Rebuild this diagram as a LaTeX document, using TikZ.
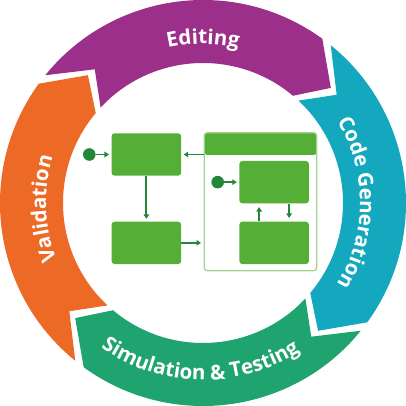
\documentclass[tikz,border=0pt]{standalone}
\usepackage{fontspec}
\setmainfont{Open Sans}
\usetikzlibrary{decorations.text,arrows.meta}

\definecolor{editcol}{HTML}{9C2F89}
\definecolor{codecol}{HTML}{14A8BF}
\definecolor{simcol}{HTML}{1FA470}
\definecolor{valcol}{HTML}{EC6A25}
\definecolor{stategreen}{HTML}{55AE36}
\definecolor{wiregreen}{HTML}{23863A}
\definecolor{framegreen}{HTML}{A3D494}

\newcommand\ringlabelfont{\fontsize{20.5}{24}\selectfont\bfseries\color{white}}

% One band of the cycle: #1 colour, #2 angle of the notch at its start.
% The band runs clockwise and ends in a right-angled point 87 degrees further on.
\newcommand\ringsegment[2]{%
  \pgfmathsetmacro\rsOuterA{#2+12}%
  \pgfmathsetmacro\rsOuterB{#2-75}%
  \pgfmathsetmacro\rsTip{#2-87}%
  \pgfmathsetmacro\rsInnerB{#2-79}%
  \pgfmathsetmacro\rsInnerA{#2+8}%
  \fill[#1] (\rsOuterA:203pt) arc[start angle=\rsOuterA, end angle=\rsOuterB, radius=203pt]
    -- (\rsTip:172pt) -- (\rsInnerB:140pt)
    arc[start angle=\rsInnerB, end angle=\rsInnerA, radius=140pt]
    -- (#2:172pt) -- cycle;}

\tikzset{
  statebox/.style={fill=stategreen, rounded corners=3pt, minimum width=69.5pt,
    minimum height=42.4pt, inner sep=0pt},
  initdot/.style={circle, fill=wiregreen, minimum size=12.6pt, inner sep=0pt},
  wire/.style={wiregreen, line width=1.8pt, -{Triangle[length=4.5pt,width=5.5pt]}},
  composite/.style={draw=framegreen, line width=1.3pt, fill=white, rounded corners=3pt,
    minimum width=112.4pt, minimum height=138pt, inner sep=0pt},
}

\begin{document}
\begin{tikzpicture}[x=1pt,y=1pt]
\useasboundingbox (-203,-203) rectangle (203,203);

% the four bands of the cycle
\ringsegment{editcol}{129}
\ringsegment{codecol}{39}
\ringsegment{simcol}{-51}
\ringsegment{valcol}{-141}

% band labels
\path[decorate, decoration={text along path, text align=center,
  text={|\ringlabelfont|Editing}}]
  (140:159pt) arc[start angle=140, end angle=40, radius=159pt];
\path[decorate, decoration={text along path, text align=center,
  text={|\ringlabelfont|Code Generation}}]
  (50:157pt) arc[start angle=50, end angle=-50, radius=157pt];
\path[decorate, decoration={text along path, text align=center,
  text={|\ringlabelfont|Validation}}]
  (227:157pt) arc[start angle=227, end angle=137, radius=157pt];
\path[decorate, decoration={text along path, text align=center,
  text={|\ringlabelfont|Simulation {\&} Testing}}]
  (-136:177pt) arc[start angle=-136, end angle=-46, radius=177pt];

% state machine in the middle
\node[statebox] (idle) at (-56.65,48.5) {};
\node[statebox] (ready) at (-56.65,-39.85) {};
\node[composite, path picture={\fill[stategreen] (path picture bounding box.north west)
  rectangle ([yshift=-22.3pt]path picture bounding box.north east);}] (group) at (57.5,1.3) {};
\node[statebox] (run) at (71.15,20.85) {};
\node[statebox] (wait) at (71.15,-39.85) {};
\node[initdot] (start) at (-113.7,48.5) {};
\node[initdot] (substart) at (14.7,20.85) {};

\draw[wire, shorten >=2.4pt] (start) -- (idle);
\draw[wire, shorten >=2.4pt] (substart) -- (run);
\draw[wire, shorten >=2.4pt] (group.west |- idle) -- (idle.east);
\draw[wire, shorten >=2.6pt] (idle) -- (ready);
\draw[wire, shorten >=2.6pt] (ready.east) -- (ready.east -| group.west);
\draw[wire, shorten >=3.5pt] ([xshift=-15pt]wait.north) -- ([xshift=-15pt]run.south);
\draw[wire, shorten >=3.5pt] ([xshift=15pt]run.south) -- ([xshift=15pt]wait.north);
\end{tikzpicture}
\end{document}
